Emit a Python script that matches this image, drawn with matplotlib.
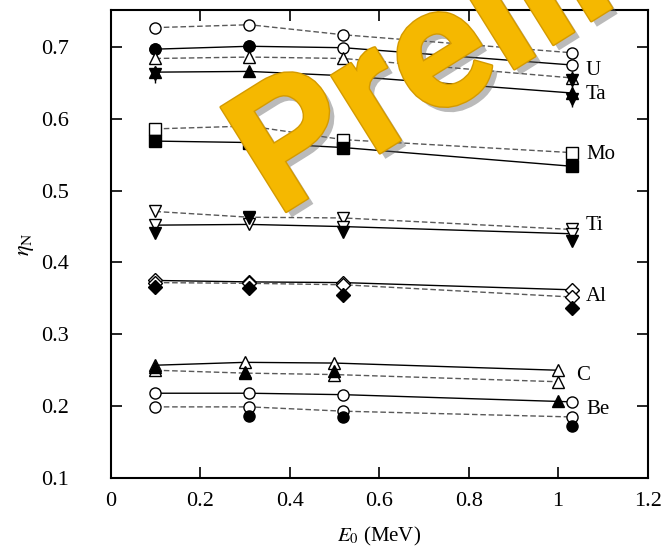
import matplotlib
matplotlib.use("Agg")
import matplotlib.pyplot as plt
import matplotlib.patheffects as pe
import numpy as np

# Beam energies (MeV)
energies_MeV = [0.10, 0.31, 0.52, 1.03]
energiesC_MeV = [0.10, 0.30, 0.50, 1.00]

# U
U_solid = [0.697, 0.701, 0.699, 0.675]
U_dashed = [0.727, 0.731, 0.717, 0.692]
U_exp_E = [0.10, 0.31]
U_exp = [0.697, 0.702]

# Ta
Ta_solid = [0.665, 0.666, 0.660, 0.636]
Ta_dashed = [0.684, 0.686, 0.684, 0.657]
Ta_exp_E = [0.10, 1.03, 1.03]
Ta_exp = [0.662, 0.654, 0.628]

# Mo
Mo_solid = [0.569, 0.567, 0.560, 0.534]
Mo_dashed = [0.586, 0.590, 0.571, 0.553]

# Ti
Ti_solid = [0.452, 0.453, 0.450, 0.440]
Ti_dashed = [0.471, 0.463, 0.462, 0.446]
Ti_exp = [0.441, 0.462, 0.443, 0.430]

# Al
Al_solid = [0.375, 0.373, 0.372, 0.362]
Al_dashed = [0.372, 0.371, 0.369, 0.352]
Al_exp = [0.366, 0.365, 0.355, 0.337]

# C
C_solid = [0.257, 0.261, 0.260, 0.250]
C_dashed = [0.250, 0.246, 0.244, 0.234]
C_exp = [0.254, 0.248, 0.249, 0.207]

# Be
Be_solid = [0.218, 0.218, 0.216, 0.206]
Be_dashed = [0.199, 0.199, 0.193, 0.185]
Be_exp_E = [0.31, 0.52, 1.03]
Be_exp = [0.186, 0.185, 0.172]

labels = ["U", "Ta", "Mo", "Ti", "Al", "C", "Be"]
label_E = [1.062, 1.062, 1.062, 1.062, 1.062, 1.040, 1.062]
label_eta = [0.667, 0.634, 0.550, 0.451, 0.352, 0.242, 0.195]

plt.rcParams["font.family"] = "Liberation Serif"
plt.rcParams["mathtext.fontset"] = "stix"

fig = plt.figure(figsize=(6.67, 5.51), dpi=100)
ax = fig.add_axes([0.166, 0.1325, 0.805, 0.85])

ms = 8
dash_kw = dict(color="0.35", linestyle=(0, (4, 2)), linewidth=1.0)
solid_kw = dict(color="black", linestyle="-", linewidth=1.0)
open_kw = dict(markerfacecolor="white", markeredgecolor="black", markeredgewidth=1.0, markersize=ms)
fill_kw = dict(markerfacecolor="black", markeredgecolor="black", markersize=ms)

def series(x, y, kw, marker, mkw):
    ax.plot(x, y, marker=marker, **kw, **mkw)

# U
series(energies_MeV, U_dashed, dash_kw, "o", open_kw)
series(energies_MeV, U_solid, solid_kw, "o", open_kw)
ax.plot(U_exp_E, U_exp, "o", **fill_kw)
# Ta
series(energies_MeV, Ta_dashed, dash_kw, "^", open_kw)
series(energies_MeV, Ta_solid, solid_kw, "^", fill_kw)
ax.errorbar(Ta_exp_E, Ta_exp, yerr=0.012, fmt="v", color="black", ecolor="black",
            elinewidth=1.0, capsize=0, **fill_kw)
# Mo
series(energies_MeV, Mo_dashed, dash_kw, "s", open_kw)
series(energies_MeV, Mo_solid, solid_kw, "s", fill_kw)
# Ti
series(energies_MeV, Ti_dashed, dash_kw, "v", open_kw)
series(energies_MeV, Ti_solid, solid_kw, "v", open_kw)
ax.plot(energies_MeV, Ti_exp, "v", **fill_kw)
# Al
series(energies_MeV, Al_solid, solid_kw, "D", dict(open_kw, markersize=7))
series(energies_MeV, Al_dashed, dash_kw, "D", dict(open_kw, markersize=7))
ax.plot(energies_MeV, Al_exp, "D", **dict(fill_kw, markersize=7))
# C
series(energiesC_MeV, C_solid, solid_kw, "^", open_kw)
series(energiesC_MeV, C_dashed, dash_kw, "^", open_kw)
ax.plot(energiesC_MeV, C_exp, "^", **fill_kw)
# Be
series(energies_MeV, Be_solid, solid_kw, "o", open_kw)
series(energies_MeV, Be_dashed, dash_kw, "o", open_kw)
ax.plot(Be_exp_E, Be_exp, "o", **fill_kw)

for name, xe, ye in zip(labels, label_E, label_eta):
    ax.text(xe, ye, name, fontsize=15, ha="left", va="center")

ax.set_xlim(0, 1.2)
ax.set_ylim(0.1, 0.752)
ax.set_xticks([0, 0.2, 0.4, 0.6, 0.8, 1.0, 1.2])
ax.set_xticklabels(["0", "0.2", "0.4", "0.6", "0.8", "1", "1.2"])
ax.set_yticks([0.1, 0.2, 0.3, 0.4, 0.5, 0.6, 0.7])
ax.tick_params(direction="in", length=8, width=1.2, top=True, right=True,
               labelsize=16)
ax.tick_params(axis="x", pad=10)
ax.tick_params(axis="y", pad=30)
for s in ax.spines.values():
    s.set_linewidth(1.5)

ax.set_xlabel(r"$E_0$ (MeV)", fontsize=15, labelpad=10)
ax.set_ylabel(r"$\eta_{\mathrm{N}}$", fontsize=16, labelpad=4)

# watermark
fig.text(0.415, 0.605, "Preliminary", fontsize=125, fontweight="bold",
         family="Roboto", color="#F5B800", rotation=32,
         ha="left", va="baseline", rotation_mode="anchor", zorder=10,
         path_effects=[pe.withSimplePatchShadow(offset=(4, -4), shadow_rgbFace="0.4", alpha=0.45),
                       pe.Stroke(linewidth=2, foreground="#D49A00"), pe.Normal()])

fig.savefig("out.png", dpi=100)
